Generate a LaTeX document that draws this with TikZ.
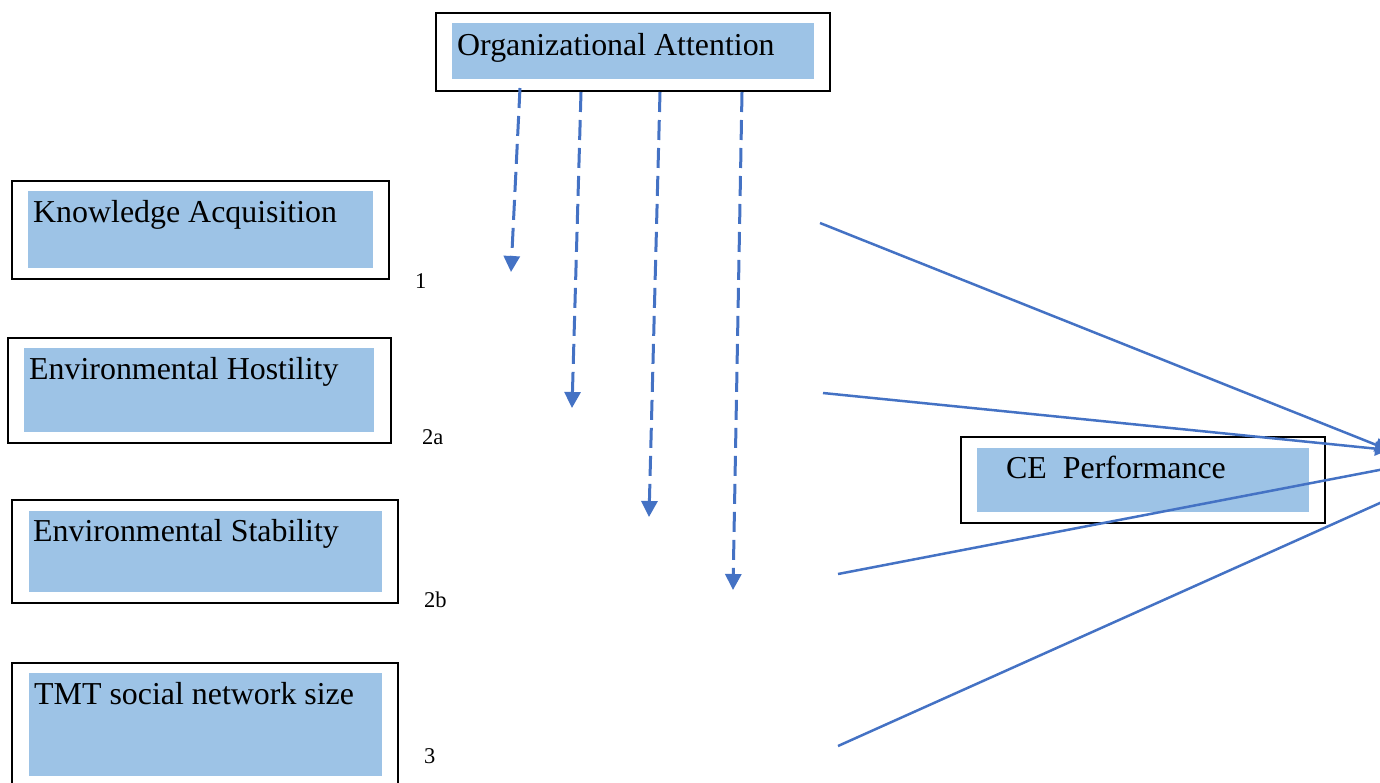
\documentclass[tikz,border=0pt]{standalone}
\usepackage{fontspec}
\setmainfont{Liberation Serif}
\usetikzlibrary{arrows.meta}
\definecolor{boxblue}{HTML}{9DC3E6}
\definecolor{lineblue}{HTML}{4472C4}
\tikzset{
  outerbox/.style={draw=black, line width=2pt, anchor=north west, inner sep=0pt, outer sep=0pt},
  innerbox/.style={fill=boxblue, anchor=north west, inner sep=0pt, outer sep=0pt},
  boxtext/.style={anchor=base west, inner sep=0pt, font=\fontsize{31.9}{36}\selectfont},
  numlabel/.style={anchor=base west, inner sep=0pt, font=\fontsize{22.5}{24}\selectfont},
  modarrow/.style={draw=lineblue, line width=3pt, dash pattern=on 20pt off 8pt, -{Triangle[width=16pt,length=16pt]}},
  patharrow/.style={draw=lineblue, line width=2.5pt, -{Triangle[width=14pt,length=14pt]}}
}
\begin{document}
\begin{tikzpicture}[x=1pt,y=-1pt]
\useasboundingbox (0,0) rectangle (1380,782);
\clip (0,0) rectangle (1380,782);
% Organizational Attention
\node[outerbox, minimum width=394pt, minimum height=78pt] (oa) at (436,13) {};
\node[innerbox, minimum width=362pt, minimum height=56pt] (oai) at (452,23) {};
\node[boxtext] (oat) at (457,55) {Organizational Attention};
% Knowledge Acquisition
\node[outerbox, minimum width=377pt, minimum height=98pt] (ka) at (12,181) {};
\node[innerbox, minimum width=345pt, minimum height=77pt] (kai) at (28,191) {};
\node[boxtext] (kat) at (33,222) {Knowledge Acquisition};
% Environmental Hostility
\node[outerbox, minimum width=383pt, minimum height=105pt] (eh) at (8,338) {};
\node[innerbox, minimum width=350pt, minimum height=84pt] (ehi) at (24,348) {};
\node[boxtext] (eht) at (29,379) {Environmental Hostility};
% Environmental Stability
\node[outerbox, minimum width=386pt, minimum height=103pt] (es) at (12,500) {};
\node[innerbox, minimum width=353pt, minimum height=81pt] (esi) at (29,511) {};
\node[boxtext] (est) at (33,541) {Environmental Stability};
% TMT social network size
\node[outerbox, minimum width=386pt, minimum height=121pt] (tmt) at (12,663) {};
\node[innerbox, minimum width=353pt, minimum height=103pt] (tmti) at (29,673) {};
\node[boxtext] (tmtt) at (34,704) {TMT social network size};
% CE Performance
\node[outerbox, minimum width=364pt, minimum height=86pt] (ce) at (961,437) {};
\node[innerbox, minimum width=332pt, minimum height=64pt] (cei) at (977,448) {};
\node[boxtext] (cet) at (1006,478) {CE\ \ Performance};
% labels
\node[numlabel] (l1) at (415,288) {1};
\node[numlabel] (l2a) at (422,444) {2a};
\node[numlabel] (l2b) at (424,607) {2b};
\node[numlabel] (l3) at (424,763) {3};
% moderating arrows
\coordinate (m1s) at (520,88);  \coordinate (m1e) at (511,272);
\coordinate (m2s) at (581,92);  \coordinate (m2e) at (572,408);
\coordinate (m3s) at (660,92);  \coordinate (m3e) at (649,517);
\coordinate (m4s) at (742,92);  \coordinate (m4e) at (733,590);
\draw[modarrow] (m1s) -- (m1e);
\draw[modarrow] (m2s) -- (m2e);
\draw[modarrow] (m3s) -- (m3e);
\draw[modarrow] (m4s) -- (m4e);
% paths to CE performance
\coordinate (p1s) at (820,223);  \coordinate (p1e) at (1389,450);
\coordinate (p2s) at (823,393);  \coordinate (p2e) at (1389,450);
\coordinate (p3s) at (838,574);  \coordinate (p3e) at (1400,466);
\coordinate (p4s) at (838,746);  \coordinate (p4e) at (1400,494);
\draw[patharrow] (p1s) -- (p1e);
\draw[patharrow] (p2s) -- (p2e);
\draw[patharrow] (p3s) -- (p3e);
\draw[patharrow] (p4s) -- (p4e);
\end{tikzpicture}
\end{document}
